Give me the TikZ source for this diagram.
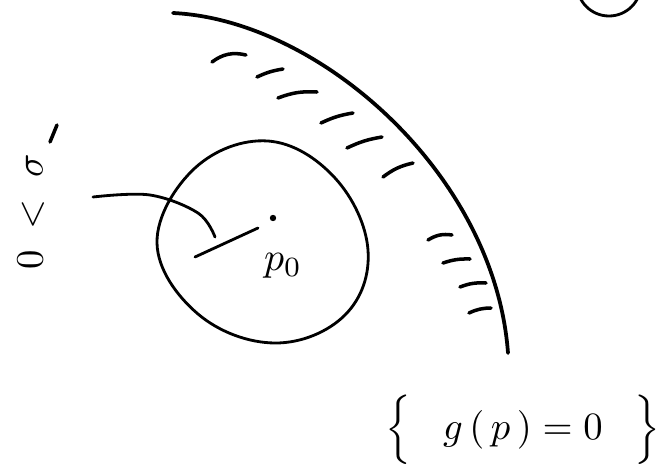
\documentclass[tikz,border=0pt]{standalone}
\usepackage{amsmath}

\begin{document}
\begin{tikzpicture}[
    x=0.03cm, y=-0.03cm,
    bound/.style={line width=3.2pt, line cap=round},
    ball/.style={line width=2.4pt},
    hatch/.style={line width=3pt, line cap=round},
    pen/.style={line width=2.4pt, line cap=round},
    txt/.style={inner sep=0pt}
]
\useasboundingbox (0,0) rectangle (662,469);
% boundary of the region
\coordinate (bs) at (173,13);
\coordinate (be) at (508,353);
\draw[bound] (bs) .. controls (320,20) and (495,175) .. (be);
% hatching inside the boundary
\draw[hatch] (212,62) to[bend left=25] (246,55);
\draw[hatch] (257,77) to[bend left=8] (283,69);
\draw[hatch] (278,98) to[bend left=12] (317,92);
\draw[hatch] (321,123) to[bend left=8] (353,113);
\draw[hatch] (347,148) to[bend left=8] (382,137);
\draw[hatch] (383,177) to[bend left=12] (413,163);
\draw[hatch] (428,240) to[bend left=20] (452,235);
\draw[hatch] (443,263) to[bend left=10] (470,259);
\draw[hatch] (460,287) to[bend left=12] (486,283);
\draw[hatch] (469,313) to[bend left=12] (491,308);
% the ball round p0
\draw[ball] plot[smooth cycle, tension=0.65] coordinates {(157,243) (195,168) (268,141) (335,178) (368,250) (345,315) (275,343) (198,314)};
\fill (273,218) circle (3.2);
\coordinate (ptr) at (258,228);
\draw[pen] (195,257) -- (ptr);
\draw[pen] plot[smooth, tension=0.6] coordinates {(93,197) (150,195) (198,213) (215,237)};
\node[txt, scale=3.4] (p0) at (283,266) {$p_0$};
% left label
\node[txt, rotate=90, scale=3.3] (sigma) at (31,212) {$0\;<\;\sigma$};
\draw[pen, line width=3pt] (50,142) -- (57,125);
% level set
\node[txt, scale=3.3] (level) at (523,430) {$\Big\{\;\;\; g\,(\,p\,)=0\;\;\;\Big\}$};
% corner circle
\begin{scope}
\clip (0,0) rectangle (662,469);
\draw[ball] (609,-16) circle (32);
\end{scope}
\end{tikzpicture}
\end{document}
